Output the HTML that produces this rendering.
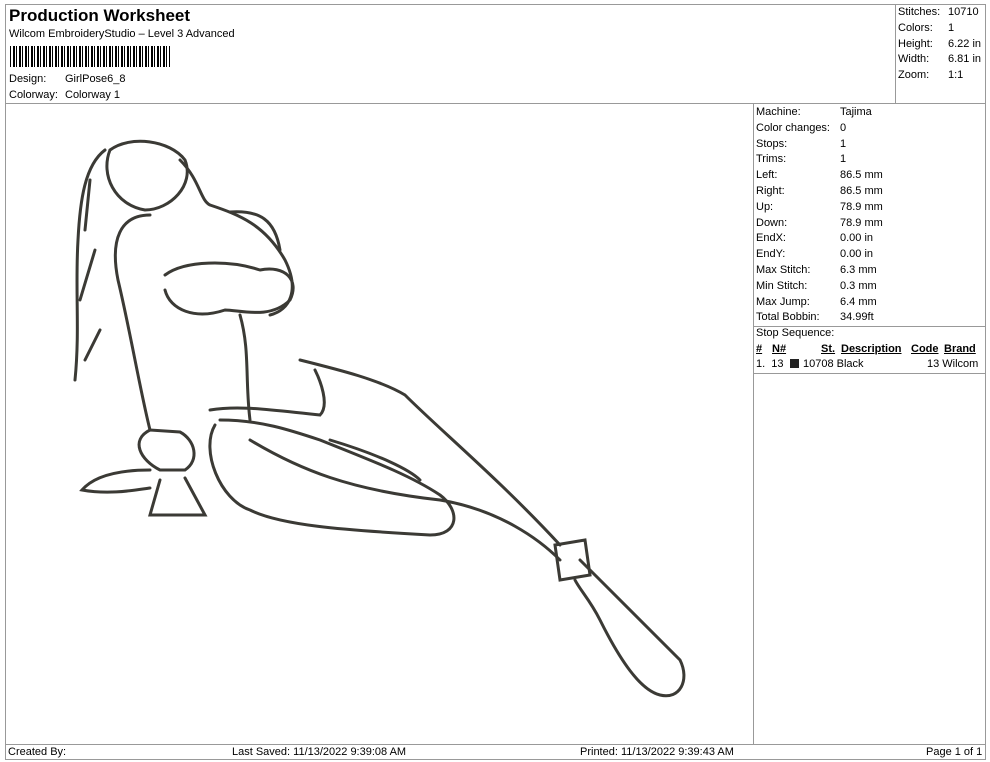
<!DOCTYPE html>
<html><head><style>
body{margin:0;width:990px;height:762px;background:#fff;font-family:"Liberation Sans",Arial,sans-serif;color:#000;position:relative;overflow:hidden}
.a{position:absolute;white-space:nowrap}
.l{position:absolute;background:#999}
.s{font-size:11px}
</style></head><body>
<div class="l" style="left:5px;top:4px;width:981px;height:1px"></div>
<div class="l" style="left:5px;top:4px;width:1px;height:756px"></div>
<div class="l" style="left:985px;top:4px;width:1px;height:756px"></div>
<div class="l" style="left:5px;top:759px;width:981px;height:1px"></div>
<div class="l" style="left:5px;top:103px;width:981px;height:1px"></div>
<div class="l" style="left:895px;top:4px;width:1px;height:99px"></div>
<div class="l" style="left:753px;top:103px;width:1px;height:641px"></div>
<div class="l" style="left:5px;top:744px;width:981px;height:1px"></div>
<div class="l" style="left:753px;top:326px;width:233px;height:1px"></div>
<div class="l" style="left:753px;top:373px;width:233px;height:1px"></div>

<div class="a" style="left:9px;top:6px;font-size:17px;font-weight:bold">Production Worksheet</div>
<div class="a s" style="left:9px;top:28px">Wilcom EmbroideryStudio – Level 3 Advanced</div>
<div class="a" style="left:10px;top:46px;width:160px;height:21px;background:repeating-linear-gradient(90deg,#000 0 1px,#fff 1px 3px,#000 3px 5px,#fff 5px 6px)"></div>
<div class="a s" style="left:9px;top:73px">Design:</div><div class="a s" style="left:65px;top:73px">GirlPose6_8</div>
<div class="a s" style="left:9px;top:89px">Colorway:</div><div class="a s" style="left:65px;top:89px">Colorway 1</div>

<div class="a s" style="left:898px;top:5px;line-height:15.8px">Stitches:<br>Colors:<br>Height:<br>Width:<br>Zoom:</div>
<div class="a s" style="left:948px;top:5px;line-height:15.8px">10710<br>1<br>6.22 in<br>6.81 in<br>1:1</div>

<div class="a s" style="left:756px;top:105px;line-height:15.8px">Machine:<br>Color changes:<br>Stops:<br>Trims:<br>Left:<br>Right:<br>Up:<br>Down:<br>EndX:<br>EndY:<br>Max Stitch:<br>Min Stitch:<br>Max Jump:<br>Total Bobbin:<br>Stop Sequence:</div>
<div class="a s" style="left:840px;top:105px;line-height:15.8px">Tajima<br>0<br>1<br>1<br>86.5 mm<br>86.5 mm<br>78.9 mm<br>78.9 mm<br>0.00 in<br>0.00 in<br>6.3 mm<br>0.3 mm<br>6.4 mm<br>34.99ft</div>
<div class="a s" style="left:756px;top:343px;font-weight:bold;text-decoration:underline">#</div>
<div class="a s" style="left:772px;top:343px;font-weight:bold;text-decoration:underline">N#</div>
<div class="a s" style="left:821px;top:343px;font-weight:bold;text-decoration:underline">St.</div>
<div class="a s" style="left:841px;top:343px;font-weight:bold;text-decoration:underline">Description</div>
<div class="a s" style="left:911px;top:343px;font-weight:bold;text-decoration:underline">Code</div>
<div class="a s" style="left:944px;top:343px;font-weight:bold;text-decoration:underline">Brand</div>
<div class="a s" style="left:756px;top:358px">1.&nbsp; 13</div>
<div class="a" style="left:790px;top:359px;width:9px;height:9px;background:#222"></div>
<div class="a s" style="left:803px;top:358px">10708 Black</div>
<div class="a s" style="left:927px;top:358px">13 Wilcom</div>

<div class="a s" style="left:8px;top:746px">Created By:</div>
<div class="a s" style="left:232px;top:746px">Last Saved: 11/13/2022 9:39:08 AM</div>
<div class="a s" style="left:580px;top:746px">Printed: 11/13/2022 9:39:43 AM</div>
<div class="a s" style="left:926px;top:746px">Page 1 of 1</div>

<svg class="a" style="left:0;top:0" width="990" height="762" fill="none" stroke="#3b3a35" stroke-width="3" stroke-linecap="round">
<path d="M110 150 C130 135 170 140 185 160 C195 185 170 210 145 210 C115 205 100 175 110 150"/>
<path d="M105 150 C85 165 80 200 78 240 C75 290 80 330 75 380"/>
<path d="M180 160 C200 180 200 200 210 205 C240 215 265 225 285 260 C300 290 290 310 270 315"/>
<path d="M150 215 C120 215 110 240 118 280 C130 330 140 390 150 430"/>
<path d="M230 212 C260 210 275 220 280 250"/>
<path d="M165 275 C185 260 230 260 260 270 C285 265 300 280 290 300 C270 320 240 310 225 310 C195 320 170 310 165 290"/>
<path d="M240 315 C250 350 245 380 250 420"/>
<path d="M300 360 C340 370 380 380 405 395 C440 430 500 480 560 545"/>
<path d="M210 410 C240 405 270 410 320 415 C330 405 320 380 315 370"/>
<path d="M215 425 C200 450 220 500 250 510 C280 525 340 530 430 535 C460 535 460 510 440 495 C410 475 370 460 320 440 C290 430 260 420 220 420"/>
<path d="M330 440 C380 455 410 470 420 480"/>
<path d="M250 440 C300 470 350 490 440 500 C500 510 540 540 560 560"/>
<path d="M555 545 L585 540 L590 575 L560 580 Z"/>
<path d="M580 560 C620 600 650 630 680 660 C690 680 680 700 660 695 C640 690 620 660 600 620 C590 600 580 590 575 580"/>
<path d="M150 430 C130 440 140 460 160 470 L185 470 C200 460 195 440 180 432 Z"/>
<path d="M160 480 L150 515 L205 515 L185 478"/>
<path d="M150 470 C120 470 95 475 82 490 C110 495 135 490 150 488"/>
<path d="M90 180 L85 230 M95 250 L80 300 M100 330 L85 360"/>
</svg>
</body></html>
